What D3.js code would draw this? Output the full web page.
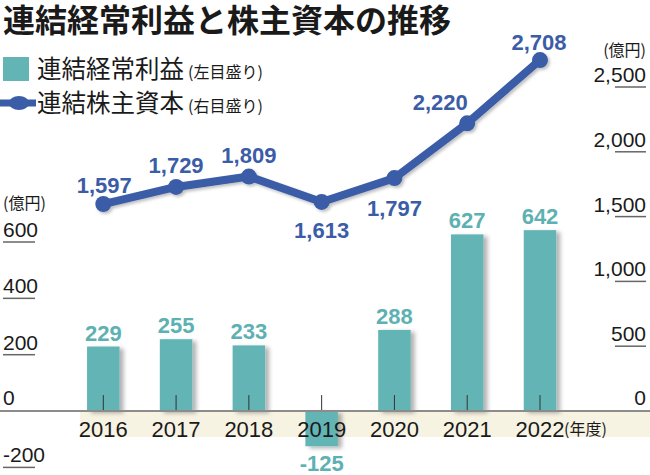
<!DOCTYPE html>
<html><head><meta charset="utf-8">
<script src="https://cdn.jsdelivr.net/npm/d3@7"></script>
<style>html,body{margin:0;padding:0;background:#fff;}svg{display:block;}</style>
</head><body>
<script>
const years = ["2016","2017","2018","2019","2020","2021","2022"];
const profit = [229, 255, 233, -125, 288, 627, 642];
const equity = [1597, 1729, 1809, 1613, 1797, 2220, 2708];
const leftTicks = [-200, 0, 200, 400, 600];
const rightTicks = [0, 500, 1000, 1500, 2000, 2500];
const title = "連結経常利益と株主資本の推移";
const legendNames = ["連結経常利益", "連結株主資本"];
const legendNotes = ["(左目盛り)", "(右目盛り)"];
const unitLabel = "(億円)";
const yearUnit = "(年度)";

const W = 650, H = 475;
const teal = "#63b4b5", tealText = "#5db1b2", blue = "#3b5ca6", ink = "#1a1a1a";
const numFont = "'Liberation Sans', Arial, sans-serif";
const jpFont = "'Noto Sans CJK JP', sans-serif";
const fmt = v => d3.format(",")(v).replace("\u2212", "-");

const svg = d3.select("body").append("svg").attr("width", W).attr("height", H);
const defs = svg.append("defs");
const f = defs.append("filter").attr("id","sh").attr("x","-30%").attr("y","-10%").attr("width","160%").attr("height","130%");
f.append("feDropShadow").attr("dx",4).attr("dy",2).attr("stdDeviation",2).attr("flood-color","#000").attr("flood-opacity",0.3);
const f2 = defs.append("filter").attr("id","sh2").attr("x","-10%").attr("y","-20%").attr("width","120%").attr("height","150%");
f2.append("feDropShadow").attr("dx",2).attr("dy",2).attr("stdDeviation",1.5).attr("flood-color","#000").attr("flood-opacity",0.25);

const x = d3.scalePoint().domain(years).range([103.3, 540]);
const yL = d3.scaleLinear().domain([-200, 600]).range([467.4, 242]);
const yR = d3.scaleLinear().domain([0, 2500]).range([411, 87]);
const barW = 32.5;

// title
svg.append("text").attr("x", 3).attr("y", 32).attr("font-family", jpFont).attr("font-weight", 700)
  .attr("font-size", 32).attr("fill", ink).text(title);

// legend
svg.append("rect").attr("x", 3).attr("y", 57).attr("width", 26).attr("height", 24).attr("fill", teal);
svg.append("line").attr("x1", 0).attr("x2", 36).attr("y1", 103).attr("y2", 103).attr("stroke", blue).attr("stroke-width", 7);
svg.append("ellipse").attr("cx", 19).attr("cy", 103).attr("rx", 10).attr("ry", 7).attr("fill", blue);
[78, 112].forEach((by, i) => {
  const t = svg.append("text").attr("x", 37).attr("y", by).attr("font-family", jpFont).attr("fill", ink);
  t.append("tspan").attr("font-size", 24.5).text(legendNames[i]);
  t.append("tspan").attr("font-size", 16).attr("dx", 4).text(legendNotes[i]);
});

// beige band
svg.append("rect").attr("x", 80).attr("y", yL(0)).attr("width", W - 80).attr("height", 26).attr("fill", "#f6f3e3");

// bars
svg.append("g").selectAll("rect").data(years).join("rect")
  .attr("x", d => x(d) - barW / 2)
  .attr("y", (d, i) => yL(Math.max(0, profit[i])))
  .attr("width", barW)
  .attr("height", (d, i) => Math.abs(yL(profit[i]) - yL(0)))
  .attr("fill", teal).attr("filter", "url(#sh)");

// ticks
svg.append("g").selectAll("line").data(years).join("line")
  .attr("x1", d => x(d)).attr("x2", d => x(d))
  .attr("y1", yL(0) - 16).attr("y2", yL(0)).attr("stroke", "#333").attr("stroke-width", 1);

// baseline
svg.append("line").attr("x1", 0).attr("x2", W).attr("y1", yL(0)).attr("y2", yL(0))
  .attr("stroke", "#8c8c8c").attr("stroke-width", 2);

// year labels
svg.append("g").selectAll("text").data(years).join("text")
  .attr("x", d => x(d)).attr("y", 437).attr("text-anchor", "middle")
  .attr("font-family", numFont).attr("font-size", 22).attr("fill", ink).text(d => d);
svg.append("text").attr("x", 564).attr("y", 435).attr("font-family", jpFont).attr("font-size", 16)
  .attr("fill", ink).text(yearUnit);

// left axis
const la = svg.append("g");
leftTicks.forEach(v => {
  const yy = yL(v);
  la.append("text").attr("x", 3).attr("y", v === 0 ? yy - 6 : yy - 5).attr("font-family", numFont)
    .attr("font-size", 21).attr("fill", ink).text(fmt(v));
  if (v !== 0) la.append("line").attr("x1", 3).attr("x2", 35).attr("y1", yy).attr("y2", yy)
    .attr("stroke", "#666").attr("stroke-width", 1.5);
});
svg.append("text").attr("x", 3).attr("y", 209).attr("font-family", jpFont).attr("font-size", 16)
  .attr("fill", ink).text(unitLabel);

// right axis
const ra = svg.append("g");
rightTicks.forEach(v => {
  const yy = yR(v);
  ra.append("text").attr("x", 646).attr("y", v === 0 ? yy - 6 : yy - 5).attr("text-anchor", "end")
    .attr("font-family", numFont).attr("font-size", 21).attr("fill", ink).text(fmt(v));
  if (v !== 0) ra.append("line").attr("x1", 615).attr("x2", 646).attr("y1", yy).attr("y2", yy)
    .attr("stroke", "#666").attr("stroke-width", 1.5);
});
svg.append("text").attr("x", 646).attr("y", 56).attr("text-anchor", "end").attr("font-family", jpFont)
  .attr("font-size", 16).attr("fill", ink).text(unitLabel);

// line
const line = d3.line().x((d, i) => x(years[i])).y(d => yR(d));
const lg = svg.append("g").attr("filter", "url(#sh2)");
lg.append("path").attr("d", line(equity)).attr("fill", "none").attr("stroke", blue)
  .attr("stroke-width", 8).attr("stroke-linejoin", "round");
lg.selectAll("circle").data(equity).join("circle")
  .attr("cx", (d, i) => x(years[i])).attr("cy", d => yR(d)).attr("r", 8).attr("fill", blue);

// bar labels
svg.append("g").selectAll("text").data(profit).join("text")
  .attr("x", (d, i) => x(years[i]))
  .attr("y", d => d >= 0 ? yL(d) - 6 : yL(d) + 25)
  .attr("text-anchor", "middle").attr("font-family", numFont).attr("font-weight", 700)
  .attr("font-size", 22).attr("fill", tealText).text(d => fmt(d));

// line labels
const place = [[1, -11], [0, -14], [0, -14], [0, 36], [0, 38], [-27, -13], [-1, -10]];
svg.append("g").selectAll("text").data(equity).join("text")
  .attr("x", (d, i) => x(years[i]) + place[i][0])
  .attr("y", (d, i) => yR(d) + place[i][1])
  .attr("text-anchor", "middle").attr("font-family", numFont).attr("font-weight", 700)
  .attr("font-size", 22).attr("fill", blue).text(d => fmt(d));
</script>
</body></html>
